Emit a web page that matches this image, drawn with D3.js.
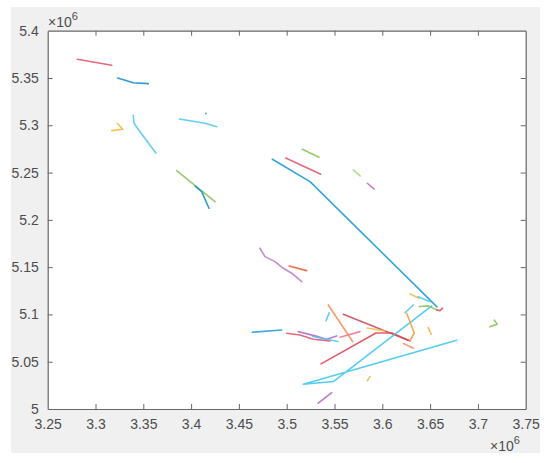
<!DOCTYPE html>
<html>
<head>
<meta charset="utf-8">
<script src="https://cdn.jsdelivr.net/npm/d3@7"></script>
<style>
  body { margin: 0; background: #fff; }
  svg { display: block; }
  text { font-family: "Liberation Sans", Arial, sans-serif; fill: #4d4d4d; }
</style>
</head>
<body>
<svg id="chart" width="550" height="463"></svg>
<script>
// Axis ticks (values in units of 1e6)
const xTicks = [3.25, 3.3, 3.35, 3.4, 3.45, 3.5, 3.55, 3.6, 3.65, 3.7, 3.75];
const yTicks = [5, 5.05, 5.1, 5.15, 5.2, 5.25, 5.3, 5.35, 5.4];
const xTickLabels = ["3.25","3.3","3.35","3.4","3.45","3.5","3.55","3.6","3.65","3.7","3.75"];
const yTickLabels = ["5","5.05","5.1","5.15","5.2","5.25","5.3","5.35","5.4"];

// Track polylines (x and y in units of 1e6)
const trackXs = [
  [3.281, 3.317],
  [3.3232, 3.3395, 3.3552],
  [3.3228, 3.3285, 3.3169],
  [3.3395, 3.3403, 3.3466, 3.3633],
  [3.3877, 3.4147, 3.4268],
  [3.4153, 3.4156],
  [3.3849, 3.425],
  [3.4041, 3.4111, 3.4187],
  [3.485, 3.5244, 3.6572],
  [3.499, 3.5356],
  [3.5163, 3.5338],
  [3.5697, 3.5767],
  [3.5843, 3.5913],
  [3.472, 3.4773, 3.4878, 3.4964, 3.5052, 3.5157],
  [3.5027, 3.5209],
  [3.464, 3.4948],
  [3.5, 3.5139, 3.5278, 3.5453],
  [3.5121, 3.5296, 3.5418, 3.5523],
  [3.5274, 3.5536],
  [3.5446, 3.5411],
  [3.5435, 3.569],
  [3.5558, 3.5767],
  [3.5592, 3.6272],
  [3.5359, 3.5934, 3.6101, 3.629],
  [3.6778, 3.5174, 3.5488, 3.6517],
  [3.6255, 3.6335, 3.629],
  [3.6238, 3.6324],
  [3.6221, 3.6326],
  [3.6481, 3.651],
  [3.629, 3.6384],
  [3.6377, 3.6499],
  [3.6387, 3.6481, 3.6569],
  [3.6569, 3.6604, 3.6632],
  [3.7172, 3.7203, 3.7127],
  [3.5871, 3.5843],
  [3.533, 3.5471],
  [3.584, 3.6025]
];
const trackYs = [
  [5.3698, 5.3634],
  [5.350, 5.345, 5.344],
  [5.3021, 5.2958, 5.2943],
  [5.3106, 5.3021, 5.2932, 5.2704],
  [5.3067, 5.3021, 5.2985],
  [5.3127, 5.3123],
  [5.252, 5.2192],
  [5.2356, 5.2298, 5.2123],
  [5.2641, 5.2404, 5.108],
  [5.2654, 5.2482],
  [5.2746, 5.2662],
  [5.2528, 5.2464],
  [5.2387, 5.2327],
  [5.17, 5.1611, 5.1558, 5.1488, 5.1436, 5.1347],
  [5.1513, 5.1463],
  [5.0812, 5.0836],
  [5.0801, 5.0783, 5.0738, 5.072],
  [5.0818, 5.0773, 5.0738, 5.0773],
  [5.0766, 5.0713],
  [5.1019, 5.0934],
  [5.11, 5.0713],
  [5.0759, 5.0818],
  [5.1002, 5.0727],
  [5.0477, 5.0804, 5.0804, 5.072],
  [5.0727, 5.0262, 5.029, 5.109],
  [5.1012, 5.0801, 5.0727],
  [5.1018, 5.11],
  [5.0692, 5.0643],
  [5.0861, 5.0791],
  [5.1217, 5.1171],
  [5.1188, 5.1135],
  [5.1083, 5.109, 5.1048],
  [5.1048, 5.104, 5.1066],
  [5.0939, 5.0897, 5.0871],
  [5.0342, 5.0297],
  [5.0061, 5.0173],
  [5.0856, 5.0825]
];
const trackColors = [
  "#e05a6e", "#1b8fd2", "#f5b942", "#56c8f0", "#56c8f0", "#2aa0dc",
  "#8cc45a", "#1b8fd2", "#1e9ad8", "#e05a6e", "#8cc45a", "#a8d880",
  "#c070c8", "#c080c8", "#f0603a", "#2aa0dc", "#e05a6e", "#b070c8",
  "#56c8f0", "#56c8f0", "#f5905a", "#f07a90", "#c8505a", "#e04a5a",
  "#44c6f0", "#f5a040", "#56c8f0", "#f59070", "#f5b040", "#f5b942",
  "#56c8f0", "#8cc45a", "#e05a6e", "#8cc45a", "#f5c050", "#b070c8",
  "#f5c050"
];

const svg = d3.select("#chart");
const L = 47.7, R = 525.7, T = 30.7, B = 409;

svg.append("rect").attr("x", 11).attr("y", 7).attr("width", 529).attr("height", 446).attr("fill", "#f0f0f0");
svg.append("rect").attr("x", L).attr("y", T).attr("width", R - L).attr("height", B - T).attr("fill", "#fff");

const x = d3.scaleLinear().domain([3.25, 3.75]).range([L, R]);
const y = d3.scaleLinear().domain([5.0, 5.4]).range([B, T]);

const line = d3.line().x(d => x(d[0])).y(d => y(d[1]));
const plot = svg.append("g");
trackXs.forEach((xs, i) => {
  const pts = xs.map((v, j) => [v, trackYs[i][j]]);
  plot.append("path")
    .attr("d", line(pts))
    .attr("fill", "none")
    .attr("stroke", trackColors[i])
    .attr("stroke-width", 1.6)
    .attr("stroke-opacity", 0.9)
    .attr("stroke-linecap", "round")
    .attr("stroke-linejoin", "round");
});

const axisColor = "#666";
const tickLen = 5;
// bottom axis
const xAxis = d3.axisBottom(x).tickValues(xTicks).tickSizeInner(-tickLen).tickSizeOuter(0)
  .tickPadding(10).tickFormat((d, i) => xTickLabels[i]);
const gx = svg.append("g").attr("transform", `translate(0,${B})`).call(xAxis);
// top axis (ticks only)
const gxt = svg.append("g").attr("transform", `translate(0,${T})`)
  .call(d3.axisTop(x).tickValues(xTicks).tickSizeInner(-tickLen).tickSizeOuter(0).tickFormat(""));
// left axis
const yAxis = d3.axisLeft(y).tickValues(yTicks).tickSizeInner(-tickLen).tickSizeOuter(0)
  .tickPadding(9).tickFormat((d, i) => yTickLabels[i]);
const gy = svg.append("g").attr("transform", `translate(${L},0)`).call(yAxis);
// right axis (ticks only)
const gyr = svg.append("g").attr("transform", `translate(${R},0)`)
  .call(d3.axisRight(y).tickValues(yTicks).tickSizeInner(-tickLen).tickSizeOuter(0).tickFormat(""));

[gx, gxt, gy, gyr].forEach(g => {
  g.selectAll(".domain").attr("stroke", axisColor).attr("stroke-width", 1.2);
  g.selectAll(".tick line").attr("stroke", axisColor);
  g.selectAll("text").attr("fill", "#4d4d4d").style("font-size", "14px")
    .style("font-family", "'Liberation Sans', Arial, sans-serif");
});
// hide the end ticks that coincide with box edges
gx.selectAll(".tick line").filter((d, i) => i === 0 || i === xTicks.length - 1).remove();
gxt.selectAll(".tick line").filter((d, i) => i === 0 || i === xTicks.length - 1).remove();
gy.selectAll(".tick line").filter((d, i) => i === 0 || i === yTicks.length - 1).remove();
gyr.selectAll(".tick line").filter((d, i) => i === 0 || i === yTicks.length - 1).remove();

// exponent labels
function expLabel(xp, yp) {
  const t = svg.append("text").attr("x", xp).attr("y", yp).style("font-size", "14px").attr("fill", "#4d4d4d");
  t.append("tspan").text("\u00d710");
  t.append("tspan").attr("dy", -7).style("font-size", "11px").text("6");
}
expLabel(48, 27);
expLabel(490, 451);
</script>
</body>
</html>
